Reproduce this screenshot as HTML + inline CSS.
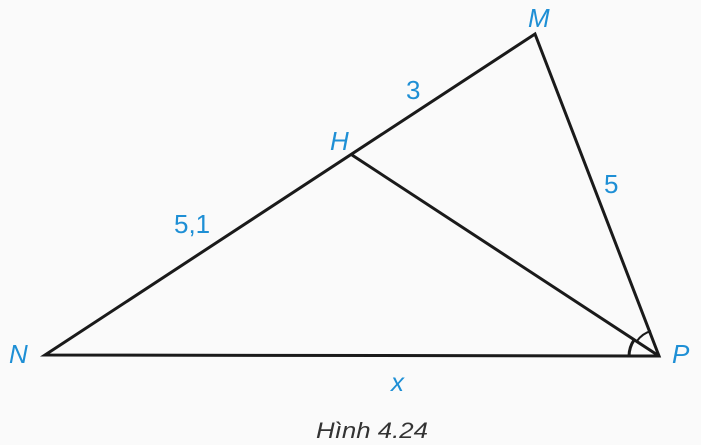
<!DOCTYPE html>
<html><head><style>
body{margin:0;background:#fafafa;}
svg{display:block}
.l{fill:#1e8fd5;font-family:"Liberation Sans",sans-serif;font-size:26px;}
.i{font-style:italic}
</style></head><body>
<svg width="701" height="445" viewBox="0 0 701 445">
<rect width="701" height="445" fill="#fafafa"/>
<g stroke="#1a1a1a" stroke-width="3" fill="none" stroke-linejoin="miter">
<polygon points="45,355 659,356 535,34"/>
<line x1="352" y1="155" x2="659" y2="356"/>
<path d="M629,356 A30,30 0 0 1 634,340"/>
<path d="M637,341 A26,26 0 0 1 651,331" stroke-width="2"/>
</g>
<text class="l i" x="528" y="27">M</text>
<text class="l i" x="330" y="150">H</text>
<text class="l i" x="9" y="363">N</text>
<text class="l i" x="672" y="363">P</text>
<text class="l" x="406" y="99">3</text>
<text class="l" x="604" y="193">5</text>
<text class="l" x="174" y="233">5,1</text>
<text class="l i" x="391" y="391">x</text>
<text x="316" y="438" font-family="Liberation Sans Narrow, Liberation Sans, sans-serif" font-style="italic" font-size="22" fill="#333" textLength="112" lengthAdjust="spacingAndGlyphs">Hình 4.24</text>
</svg>
</body></html>
